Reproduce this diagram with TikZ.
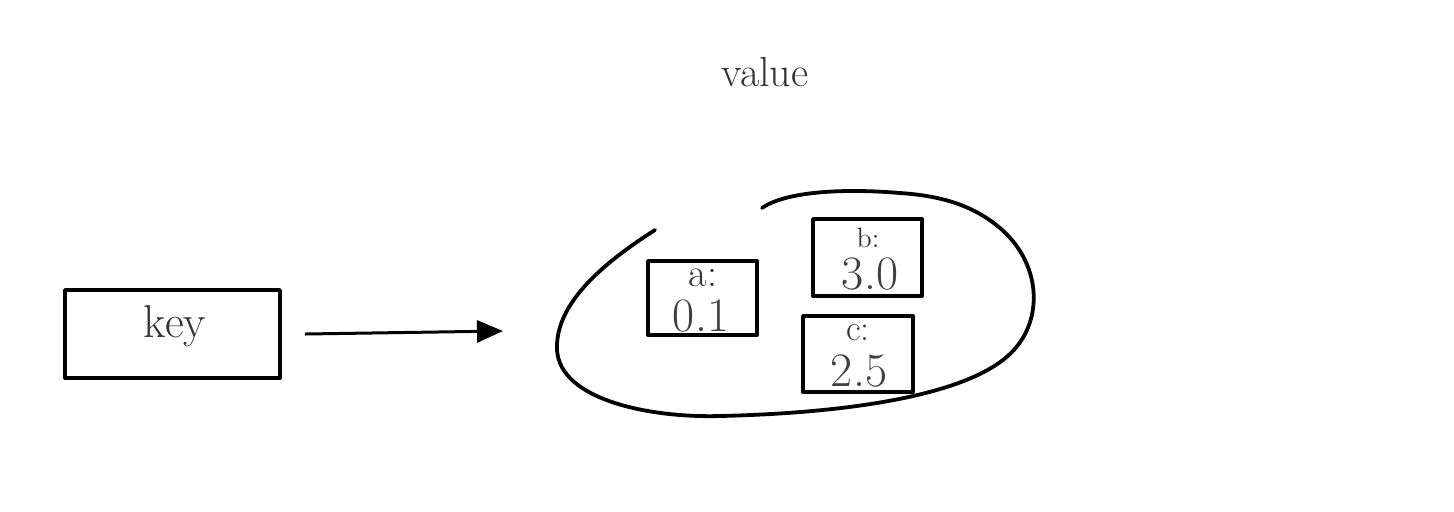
\documentclass[tikz,border=0pt]{standalone}
\usetikzlibrary{arrows.meta}
\begin{document}
\begin{tikzpicture}[x=0.5pt,y=-0.5pt,
  ink/.style={line width=1.9pt, line cap=round, line join=round},
  keybox/.style={draw, ink, minimum width=107.5pt, minimum height=44pt, inner sep=0pt},
  cell/.style={draw, ink, inner sep=0pt},
  tag/.style={inner sep=0pt, text=black!80},
  num/.style={inner sep=0pt, text=black!75, font=\fontsize{24}{24}\selectfont}]
\useasboundingbox (0,0) rectangle (1454,511);

% title
\node[tag, font=\fontsize{21}{21}\selectfont] (title) at (765,72) {value};

% key box and arrow
\node[keybox] (key) at (172.5,334) {};
\node[tag, font=\fontsize{23}{23}\selectfont] (keytext) at (175,326) {key};
\coordinate (tip) at (503,331);
\draw[line width=1.5pt, -{Triangle[length=13pt,width=11pt]}] ([xshift=11.5pt]key.east) -- (tip);

% the collection outline (open hand-drawn loop)
\draw[ink] (655,230) .. controls (600,265) and (555,305) .. (557,350)
  .. controls (560,400) and (650,418) .. (720,416)
  .. controls (850,413) and (970,395) .. (1012,352)
  .. controls (1045,318) and (1040,262) .. (1000,228)
  .. controls (975,207) and (945,196) .. (900,193)
  .. controls (840,188) and (785,192) .. (762,208);

% entries
\node[cell, minimum width=54.5pt, minimum height=37pt] (ca) at (702.5,298) {};
\node[tag, font=\fontsize{20}{20}\selectfont] (la) at (703,278) {a:};
\node[num] (va) at (701,316) {0.1};

\node[cell, minimum width=54.5pt, minimum height=38.5pt] (cb) at (867.5,257.5) {};
\node[tag, font=\fontsize{14}{14}\selectfont] (lb) at (868,238) {b:};
\node[num] (vb) at (870,274) {3.0};

\node[cell, minimum width=55pt, minimum height=38pt] (cc) at (858,354) {};
\node[tag, font=\fontsize{18}{18}\selectfont] (lc) at (858,333) {c:};
\node[num] (vc) at (859,371) {2.5};
\end{tikzpicture}
\end{document}
